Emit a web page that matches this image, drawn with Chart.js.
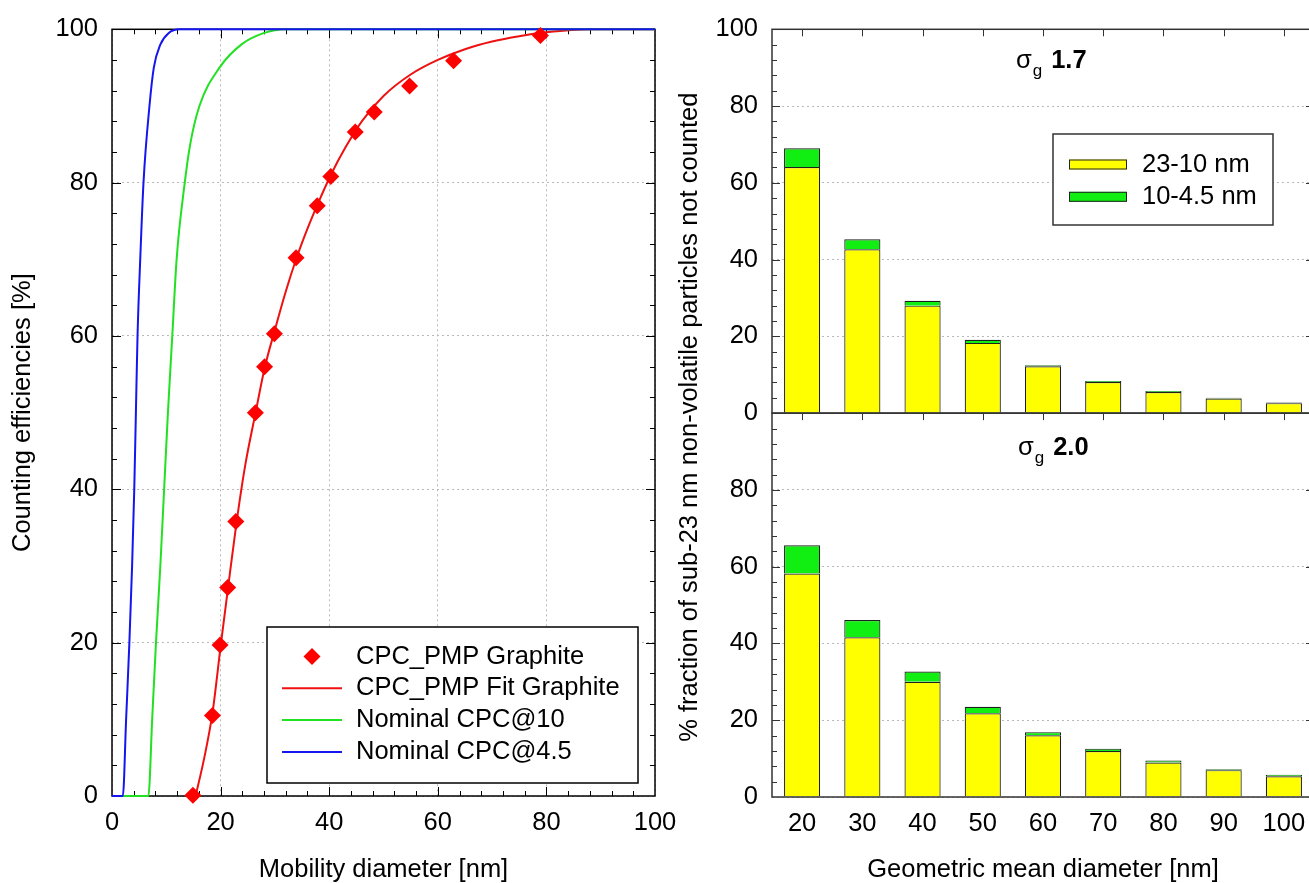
<!DOCTYPE html>
<html>
<head>
<meta charset="utf-8">
<title>CPC counting efficiency / sub-23 nm fraction</title>
<script src="https://cdn.jsdelivr.net/npm/chart.js@4/dist/chart.umd.min.js"></script>
<style>
  html, body { margin: 0; padding: 0; background: #fff; overflow: hidden; }
  #wrap { position: relative; width: 1309px; height: 883px; overflow: hidden; background: #fff; }
  #left-chart  { position: absolute; left: 0;     top: 0; width: 700px; height: 883px; }
  #right-chart { position: absolute; left: 660px; top: 0; width: 670px; height: 883px; }
</style>
</head>
<body>
<div id="wrap">
  <canvas id="left-chart" width="700" height="883"></canvas>
  <canvas id="right-chart" width="670" height="883"></canvas>
</div>
<script>
'use strict';

// ===== データ: 左 (計数効率) =====

const graphiteDiam = [14.9, 18.5, 19.9, 21.3, 22.8, 26.4, 28.1, 29.9, 33.9, 37.8, 40.3, 44.8, 48.3, 54.8, 62.9, 78.9];
const graphiteEff  = [0.1, 10.5, 19.7, 27.2, 35.8, 50.0, 56.0, 60.3, 70.2, 77.0, 80.8, 86.6, 89.2, 92.6, 95.9, 99.2];

const fitDiam = [15.4, 17, 18.5, 20, 21.4, 22.9, 24.5, 26.5, 28.1, 30, 32, 34, 36, 38, 40.3, 43, 46, 50, 55, 60, 65, 70, 75, 80, 88, 100];
const fitEff  = [0, 5, 10.8, 19.5, 27.3, 35.5, 43, 50.2, 55.8, 60.8, 65.8, 70.2, 74, 77.4, 81, 84.6, 88, 91.3, 94.1, 96, 97.4, 98.4, 99.1, 99.6, 100, 100];

const cpc10Diam = [0, 6.7, 7.4, 8.1, 8.9, 9.6, 10.3, 11.1, 11.9, 13.4, 14.4, 16.1, 19.8, 23.8, 27.9, 32, 100];
const cpc10Eff  = [0, 0, 10, 20, 30, 40, 50, 60, 70, 80, 85, 90, 95, 98, 99.5, 100, 100];

const cpc45Diam = [0, 2.0, 2.6, 3.2, 3.7, 4.1, 4.4, 4.7, 5.2, 5.8, 6.9, 7.7, 8.9, 10.4, 12.5, 100];
const cpc45Eff  = [0, 0, 10, 20, 30, 40, 50, 60, 70, 80, 90, 95, 98, 99.5, 100, 100];

const effTicks  = [0, 20, 40, 60, 80, 100];
const diamTicks = [0, 20, 40, 60, 80, 100];

// ===== データ: 右 (sub-23 nm 非計数割合) =====

const meanDiam  = ['20', '30', '40', '50', '60', '70', '80', '90', '100'];
const sg17Fine  = [64.1, 42.7, 28.0, 18.3, 12.2, 8.1, 5.5, 3.8, 2.6];   // 23-10 nm
const sg17Ultra = [4.9, 2.6, 1.3, 0.8, 0.3, 0.3, 0.3, 0.2, 0.15];       // 10-4.5 nm
const sg20Fine  = [58.2, 41.6, 30.0, 21.8, 16.1, 12.0, 9.0, 7.0, 5.4];
const sg20Ultra = [7.4, 4.5, 2.7, 1.7, 0.8, 0.6, 0.5, 0.2, 0.4];

const topTicks = [0, 20, 40, 60, 80, 100];
const botTicks = [0, 20, 40, 60, 80];

// ===== 共通スタイル =====

const FONT = "'Liberation Sans', Arial, Helvetica, sans-serif";
const TXT  = 25.5;

Chart.defaults.font.family = FONT;
Chart.defaults.font.size   = TXT;
Chart.defaults.color       = '#000';
Chart.defaults.animation   = false;

const toPoints = (xs, ys) => xs.map((x, i) => ({ x, y: ys[i] }));
const fixTicks = arr => scale => { scale.ticks = arr.map(value => ({ value })); };

function line(ctx, x1, y1, x2, y2) {
    ctx.beginPath();
    ctx.moveTo(x1, y1);
    ctx.lineTo(x2, y2);
    ctx.stroke();
}

function diamond(ctx, x, y, r) {
    ctx.beginPath();
    ctx.moveTo(x - r, y);
    ctx.lineTo(x, y - r);
    ctx.lineTo(x + r, y);
    ctx.lineTo(x, y + r);
    ctx.closePath();
    ctx.fill();
}

const gridStyle = { color: '#b9b9b9', lineWidth: 1, drawTicks: false };
const dotted    = { display: false, dash: [2, 3] };

// ===== 枠と内向き目盛り =====

function drawPanels(chart, o) {
    const { ctx, chartArea: ca, scales } = chart;
    const xs = scales.x;
    ctx.save();
    ctx.strokeStyle = o.color;
    o.yScales.forEach(id => {
        const ys = scales[id];
        const top = ys.top, bottom = ys.bottom;
        ctx.lineWidth = 1;
        for (let v = ys.min + o.yMinor; v < ys.max; v += o.yMinor) {
            const py = Math.round(ys.getPixelForValue(v)) + 0.5;
            const len = v % o.yMajor === 0 ? o.majorLen : o.minorLen;
            line(ctx, ca.left, py, ca.left + len, py);
            line(ctx, ca.right, py, ca.right - len, py);
        }
        if (xs.type === 'category') {
            xs.ticks.forEach((t, i) => {
                const px = Math.round(xs.getPixelForTick(i)) + 0.5;
                line(ctx, px, top, px, top + o.catLen);
            });
        } else {
            for (let v = xs.min + o.xMinor; v < xs.max; v += o.xMinor) {
                const px = Math.round(xs.getPixelForValue(v)) + 0.5;
                const len = v % o.xMajor === 0 ? o.majorLen : o.minorLen;
                line(ctx, px, top, px, top + len);
                line(ctx, px, bottom, px, bottom - len);
            }
        }
        ctx.lineWidth = o.frameWidth;
        ctx.strokeRect(ca.left, top, ca.right - ca.left, bottom - top);
    });
    ctx.restore();
}

const framePlugin = {
    id: 'frame',
    beforeDatasetsDraw(chart, args, o) { if (o.under) drawPanels(chart, o); },
    afterDatasetsDraw(chart, args, o)  { if (!o.under) drawPanels(chart, o); },
};

// ===== 枠付き凡例 =====

const boxLegendPlugin = {
    id: 'boxLegend',
    afterDatasetsDraw(chart, args, o) {
        const { ctx } = chart;
        const ds = chart.data.datasets;
        const b = o.box;
        ctx.save();
        ctx.fillStyle = '#fff';
        ctx.fillRect(b.x, b.y, b.w, b.h);
        ctx.lineWidth = 1.5;
        ctx.strokeStyle = b.color;
        ctx.strokeRect(b.x, b.y, b.w, b.h);
        ctx.font = `${TXT}px ${FONT}`;
        ctx.textBaseline = 'middle';
        ctx.textAlign = 'left';
        o.rows.forEach((rowY, i) => {
            const d = ds[i];
            const [m0, m1] = o.marker;
            if (o.kind === 'swatch') {
                ctx.fillStyle = d.backgroundColor;
                ctx.fillRect(m0, rowY - 5, m1 - m0, 10);
                ctx.lineWidth = 1;
                ctx.strokeStyle = '#222';
                ctx.strokeRect(m0 + 0.5, rowY - 4.5, m1 - m0 - 1, 9);
            } else if (d.showLine) {
                ctx.strokeStyle = d.borderColor;
                ctx.lineWidth = 2;
                line(ctx, m0, rowY, m1, rowY);
            } else {
                ctx.fillStyle = d.backgroundColor;
                diamond(ctx, (m0 + m1) / 2, rowY, d.pointRadius);
            }
            ctx.fillStyle = '#000';
            ctx.fillText(d.label, o.textX, rowY);
        });
        ctx.restore();
    },
};

// ===== パネル見出し (σg) と共通 y 軸タイトル =====

const panelTextPlugin = {
    id: 'panelText',
    afterDraw(chart, args, o) {
        const { ctx, chartArea: ca } = chart;
        ctx.save();
        ctx.fillStyle = '#000';
        ctx.textBaseline = 'alphabetic';
        ctx.textAlign = 'left';
        o.titles.forEach(t => {
            const base = chart.scales[t.scale].top + t.dy;
            let x = ca.left + t.dx;
            ctx.font = `${TXT}px ${FONT}`;
            ctx.fillText('σ', x, base);
            x += ctx.measureText('σ').width + 1;
            ctx.font = `17px ${FONT}`;
            ctx.fillText('g', x, base + 8);
            x += ctx.measureText('g').width + 9;
            ctx.font = `bold ${TXT}px ${FONT}`;
            ctx.fillText(t.value, x, base);
        });
        const yt = o.yTitle;
        ctx.translate(yt.x, (ca.top + ca.bottom) / 2 + yt.dy);
        ctx.rotate(-Math.PI / 2);
        ctx.font = `${TXT}px ${FONT}`;
        ctx.textAlign = 'center';
        ctx.textBaseline = 'middle';
        ctx.fillText(yt.text, 0, 0);
        ctx.restore();
    },
};

// ===== 左グラフ =====

new Chart(document.getElementById('left-chart'), {
    type: 'scatter',
    data: {
        datasets: [
            {
                label: 'CPC_PMP Graphite',
                data: toPoints(graphiteDiam, graphiteEff),
                pointStyle: 'rectRot',
                pointRadius: 8.5,
                backgroundColor: '#ff0000',
                borderColor: '#ff0000',
                borderWidth: 0,
                showLine: false,
                clip: false,
                order: 0,
            },
            {
                label: 'CPC_PMP Fit Graphite',
                data: toPoints(fitDiam, fitEff),
                showLine: true,
                borderColor: '#ee1111',
                borderWidth: 2,
                pointRadius: 0,
                cubicInterpolationMode: 'monotone',
                clip: false,
                order: 3,
            },
            {
                label: 'Nominal CPC@10',
                data: toPoints(cpc10Diam, cpc10Eff),
                showLine: true,
                borderColor: '#22e022',
                borderWidth: 2,
                pointRadius: 0,
                cubicInterpolationMode: 'monotone',
                clip: false,
                order: 2,
            },
            {
                label: 'Nominal CPC@4.5',
                data: toPoints(cpc45Diam, cpc45Eff),
                showLine: true,
                borderColor: '#1515ee',
                borderWidth: 2,
                pointRadius: 0,
                cubicInterpolationMode: 'monotone',
                clip: false,
                order: 1,
            },
        ],
    },
    options: {
        responsive: false,
        events: [],
        layout: { padding: { top: 23, right: 45, bottom: 0, left: 0 } },
        scales: {
            x: {
                type: 'linear',
                min: 0,
                max: 100,
                afterBuildTicks: fixTicks(diamTicks),
                afterFit: s => { s.height = 87; },
                ticks: { padding: 12, maxRotation: 0, autoSkip: false },
                grid: gridStyle,
                border: dotted,
                title: {
                    display: true,
                    text: 'Mobility diameter [nm]',
                    font: { size: TXT, lineHeight: 1 },
                    padding: 0,
                },
            },
            y: {
                type: 'linear',
                min: 0,
                max: 100,
                afterBuildTicks: fixTicks(effTicks),
                afterFit: s => { s.width = 112; },
                ticks: { padding: 14, autoSkip: false },
                grid: gridStyle,
                border: dotted,
                title: {
                    display: true,
                    text: 'Counting efficiencies [%]',
                    font: { size: TXT, lineHeight: 1 },
                    padding: { top: 10, bottom: 0 },
                },
            },
        },
        plugins: {
            legend: { display: false },
            tooltip: { enabled: false },
            frame: {
                under: true, color: '#000', frameWidth: 1.5,
                yScales: ['y'], xMinor: 4, xMajor: 20, yMinor: 4, yMajor: 20,
                majorLen: 9, minorLen: 5,
            },
            boxLegend: {
                box: { x: 267, y: 627, w: 371, h: 156, color: '#000' },
                rows: [656.5, 688.3, 720, 752],
                marker: [282, 342],
                textX: 356,
            },
        },
    },
    plugins: [framePlugin, boxLegendPlugin],
});

// ===== 右グラフ (上: σg 1.7, 下: σg 2.0) =====

const barStyle = {
    borderColor: '#1e1e1e',
    borderWidth: 1.2,
    barPercentage: 0.6,
    categoryPercentage: 1,
    stack: 'panel',
};

const valueAxis = (ticksArr) => ({
    type: 'linear',
    position: 'left',
    stack: 'panels',
    stackWeight: 1,
    stacked: true,
    offset: false,
    min: 0,
    max: 100,
    afterBuildTicks: fixTicks(ticksArr),
    afterFit: s => { s.width = 112; },
    ticks: { padding: 14, autoSkip: false },
    grid: gridStyle,
    border: dotted,
});

new Chart(document.getElementById('right-chart'), {
    type: 'bar',
    data: {
        labels: meanDiam,
        datasets: [
            { label: '23-10 nm',  data: sg17Fine,  yAxisID: 'yTop', backgroundColor: '#ffff00', ...barStyle },
            { label: '10-4.5 nm', data: sg17Ultra, yAxisID: 'yTop', backgroundColor: '#11ee11', ...barStyle },
            { label: '23-10 nm',  data: sg20Fine,  yAxisID: 'yBot', backgroundColor: '#ffff00', ...barStyle },
            { label: '10-4.5 nm', data: sg20Ultra, yAxisID: 'yBot', backgroundColor: '#11ee11', ...barStyle },
        ],
    },
    options: {
        responsive: false,
        events: [],
        layout: { padding: { top: 23, right: 16, bottom: 0, left: 0 } },
        scales: {
            // 左側に積む軸は後に定義したものが上に来る
            yBot: valueAxis(botTicks),
            yTop: valueAxis(topTicks),
            x: {
                type: 'category',
                stacked: true,
                afterFit: s => { s.height = 86; },
                ticks: { padding: 12, maxRotation: 0, autoSkip: false },
                grid: { display: false, drawTicks: false },
                border: { display: false },
                title: {
                    display: true,
                    text: 'Geometric mean diameter [nm]',
                    font: { size: TXT, lineHeight: 1 },
                    padding: 0,
                },
            },
        },
        plugins: {
            legend: { display: false },
            tooltip: { enabled: false },
            frame: {
                under: false, color: '#333', frameWidth: 1.5,
                yScales: ['yTop', 'yBot'], yMinor: 4, yMajor: 20,
                majorLen: 8, minorLen: 5, catLen: 7,
            },
            boxLegend: {
                kind: 'swatch',
                box: { x: 393, y: 134, w: 220, h: 91, color: '#333' },
                rows: [164.5, 196.8],
                marker: [409, 467],
                textX: 482,
            },
            panelText: {
                titles: [
                    { scale: 'yTop', value: '1.7', dx: 244, dy: 39 },
                    { scale: 'yBot', value: '2.0', dx: 246, dy: 42 },
                ],
                yTitle: { text: '% fraction of sub-23 nm non-volatile particles not counted', x: 30, dy: 4 },
            },
        },
    },
    plugins: [framePlugin, boxLegendPlugin, panelTextPlugin],
});
</script>
</body>
</html>
